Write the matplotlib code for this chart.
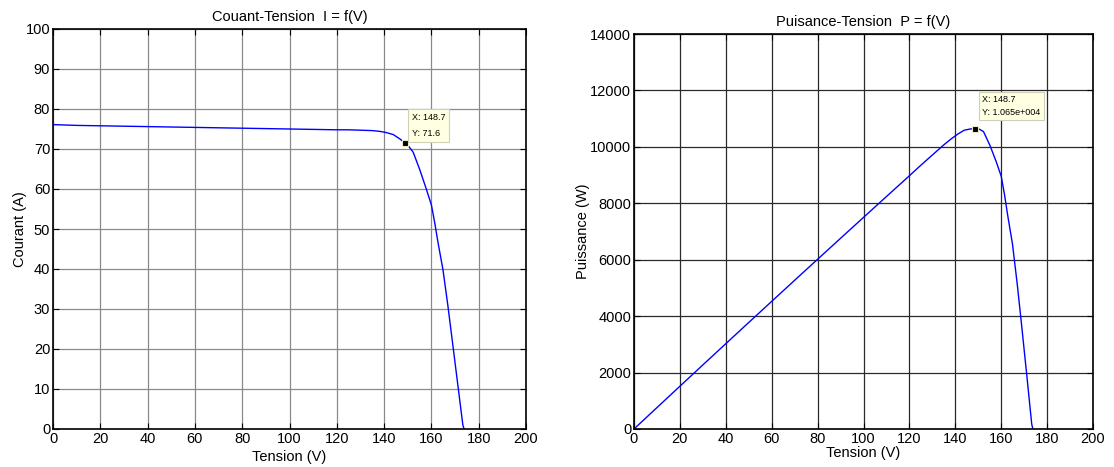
import matplotlib
matplotlib.use("Agg")
import matplotlib.pyplot as plt
import numpy as np

plt.rcParams['font.family'] = ['Liberation Sans', 'DejaVu Sans']

voltage = [0, 10, 20, 30, 40, 50, 60, 70, 80, 90, 100, 110, 120, 125, 130,
           135, 138.3, 141, 143.9, 146.7, 148.7, 150.5, 152.3, 155.1, 157.9,
           160, 161.4, 162.8, 164.9, 167, 169.1, 171.2, 173.3, 173.8]
current = [76.1, 75.9, 75.8, 75.7, 75.6, 75.5, 75.4, 75.3, 75.2, 75.1, 75.0,
           74.9, 74.8, 74.8, 74.7, 74.6, 74.4, 74.1, 73.6, 72.5, 71.6, 70.6,
           69.2, 64.8, 59.9, 56.0, 51.6, 46.6, 39.8, 30.7, 20.8, 10.9, 1.0, 0.0]
power = [v * i for v, i in zip(voltage, current)]

tip_v = 148.7
tip_i = 71.6
tip_p = 10650

x_ticks = list(range(0, 201, 20))
i_ticks = list(range(0, 101, 10))
p_ticks = list(range(0, 14001, 2000))

fig = plt.figure(figsize=(11.14, 4.67), dpi=100)
ax1 = fig.add_axes([53/1114, 1-429/467, 473/1114, 400/467])
ax2 = fig.add_axes([634/1114, 1-429/467, 459/1114, 395/467])

FS = 10.5

def style(ax, gridcolor):
    ax.tick_params(direction='in', top=True, right=True, length=4, width=0.8,
                   labelsize=FS, pad=2)
    for s in ax.spines.values():
        s.set_linewidth(1.2)
        s.set_color('black')
    ax.grid(True, color=gridcolor, linewidth=0.9, linestyle='-')
    ax.set_axisbelow(True)

# Left: I = f(V)
ax1.plot(voltage, current, color='#0000ff', lw=1.0)
ax1.set_xlim(0, 200)
ax1.set_ylim(0, 100)
ax1.set_xticks(x_ticks)
ax1.set_yticks(i_ticks)
style(ax1, '#8a8a8a')
ax1.set_title('Couant-Tension  I = f(V)', fontsize=FS, pad=6)
ax1.set_xlabel('Tension (V)', fontsize=FS, labelpad=3)
ax1.set_ylabel('Courant (A)', fontsize=FS, labelpad=-1)
ax1.plot([tip_v], [tip_i], marker='s', ms=5, mfc='black', mec='#e8e8c8', mew=0.8)
ax1.annotate('X: 148.7\nY: 71.6', xy=(tip_v, tip_i), xytext=(7, 5),
             textcoords='offset pixels', ha='left', va='bottom', fontsize=6.5,
             linespacing=1.9,
             bbox=dict(boxstyle='square,pad=0.45', fc='#ffffe1', ec='#d0d0b8', lw=0.8))

# Right: P = f(V)
ax2.plot(voltage, power, color='#0000ff', lw=1.0)
ax2.set_xlim(0, 200)
ax2.set_ylim(0, 14000)
ax2.set_xticks(x_ticks)
ax2.set_yticks(p_ticks)
style(ax2, '#2a2a2a')
ax2.set_title('Puisance-Tension  P = f(V)', fontsize=FS, pad=6)
ax2.set_xlabel('Tension (V)', fontsize=FS, labelpad=0)
ax2.set_ylabel('Puissance (W)', fontsize=FS, labelpad=0)
ax2.plot([tip_v], [tip_p], marker='s', ms=5, mfc='black', mec='#e8e8c8', mew=0.8)
ax2.annotate('X: 148.7\nY: 1.065e+004', xy=(tip_v, tip_p), xytext=(7, 12),
             textcoords='offset pixels', ha='left', va='bottom', fontsize=6.5,
             linespacing=1.5,
             bbox=dict(boxstyle='square,pad=0.35', fc='#ffffe1', ec='#d0d0b8', lw=0.8))

fig.savefig('out.png', dpi=100)
